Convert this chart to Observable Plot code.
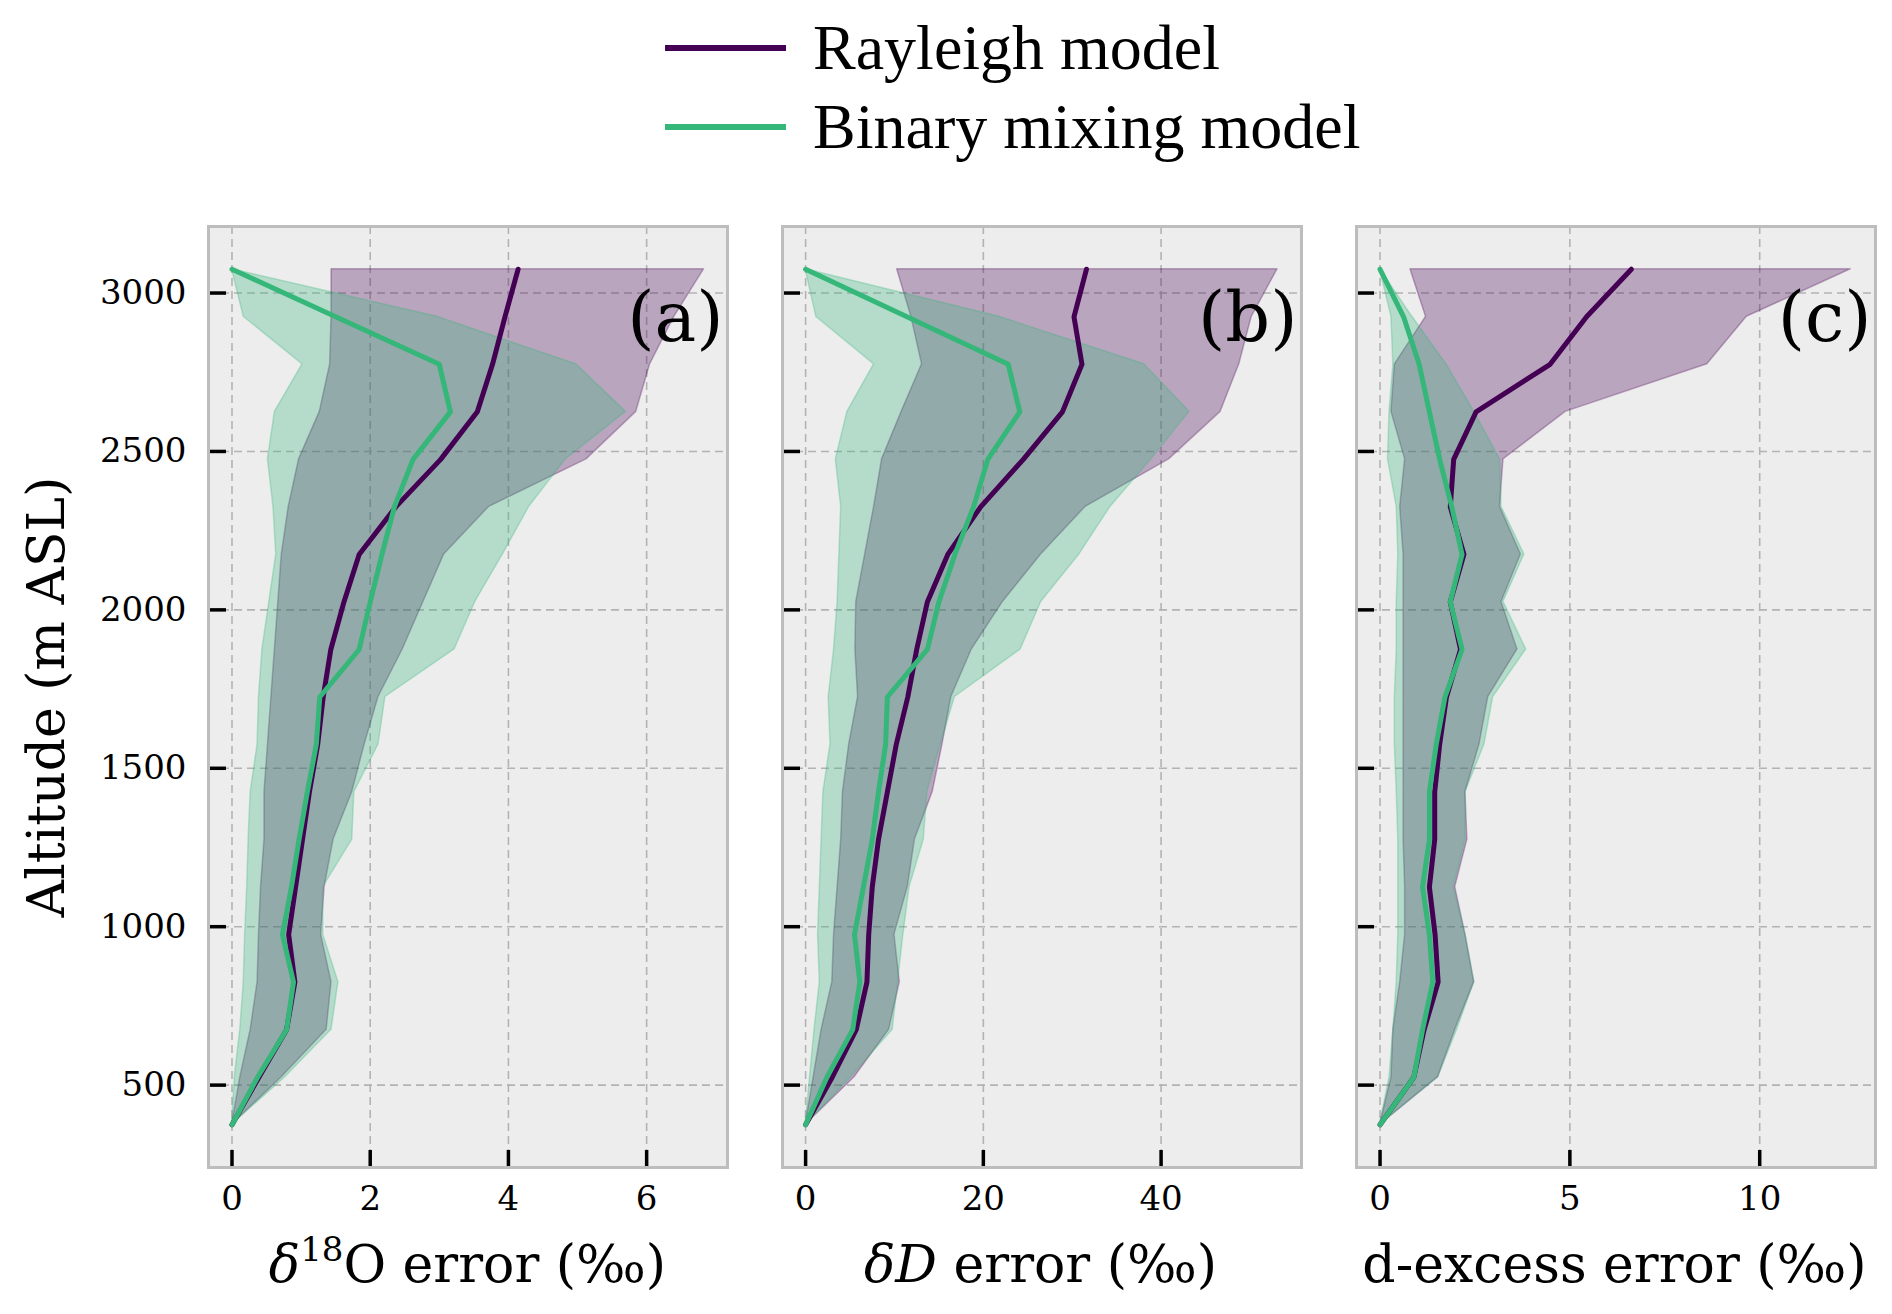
<!DOCTYPE html>
<html lang="en">
<head>
<meta charset="UTF-8">
<title>Altitude error profiles</title>
<script src="https://cdn.jsdelivr.net/npm/d3@7"></script>
<script src="https://cdn.jsdelivr.net/npm/@observablehq/plot@0.6"></script>
<style>
  body { margin: 0; background: #fff; }
  #page { position: relative; width: 1892px; height: 1314px; overflow: hidden; }
  .panel { position: absolute; top: 216px; }
  .panel svg { overflow: visible; }
  .xtitle { position: absolute; top: 1238px; width: 519px; text-align: center;
            font-family: "DejaVu Serif", serif; font-size: 52px; line-height: 1; color: #000; white-space: nowrap; }
  .xtitle sup { font-size: 34px; vertical-align: 0.62em; line-height: 0; }
  #ytitle { position: absolute; left: 46px; top: 697px; transform: translate(-50%, -50%) rotate(-90deg);
            font-family: "DejaVu Serif", serif; font-size: 52px; line-height: 1; white-space: nowrap; }
  .leg { position: absolute; left: 665px; font-family: "Liberation Serif", serif; font-size: 64px; line-height: 1; }
  .leg .sw { position: absolute; left: 0; width: 121px; height: 6px; }
  .leg .lab { position: absolute; left: 148px; white-space: nowrap; transform: translateY(-50%); }
</style>
</head>
<body>
<div id="page">
  <div class="leg" style="top:48px"><div class="sw" style="top:-3px;background:#440154"></div><div class="lab">Rayleigh model</div></div>
  <div class="leg" style="top:127px"><div class="sw" style="top:-3px;background:#35b779"></div><div class="lab">Binary mixing model</div></div>
  <div id="ytitle">Altitude (m ASL)</div>
  <div id="pa" class="panel"></div>
  <div id="pb" class="panel"></div>
  <div id="pc" class="panel"></div>
  <div class="xtitle" style="left:208px"><i>δ</i><sup>18</sup>O error (‰)</div>
  <div class="xtitle" style="left:781px"><i>δD</i> error (‰)</div>
  <div class="xtitle" style="left:1355px">d-excess error (‰)</div>
</div>
<script>
// altitude levels (m ASL)
const altitude = [375, 525, 675, 825, 975, 1125, 1275, 1425, 1575, 1725, 1875, 2025, 2175, 2325, 2475, 2625, 2775, 2925, 3075];
const yTicks = [500, 1000, 1500, 2000, 2500, 3000];

// (a) d18O error
const o18RayMean = [0, 0.39, 0.79, 0.91, 0.82, 0.92, 1.02, 1.12, 1.24, 1.32, 1.43, 1.62, 1.84, 2.37, 3.02, 3.55, 3.77, 3.95, 4.14];
const o18RayLow  = [0, 0.12, 0.27, 0.37, 0.39, 0.42, 0.47, 0.47, 0.52, 0.57, 0.62, 0.67, 0.72, 0.82, 0.97, 1.27, 1.42, 1.44, 1.44];
const o18RayHigh = [0, 0.72, 1.37, 1.44, 1.29, 1.34, 1.47, 1.74, 1.92, 2.12, 2.47, 2.77, 3.07, 3.72, 5.13, 5.85, 6.05, 6.40, 6.83];
const o18MixMean = [0, 0.37, 0.79, 0.89, 0.73, 0.86, 0.97, 1.09, 1.22, 1.27, 1.84, 2.00, 2.17, 2.35, 2.62, 3.16, 3.00, 1.50, 0];
const o18MixLow  = [0, 0.04, 0.12, 0.17, 0.19, 0.22, 0.24, 0.27, 0.37, 0.39, 0.44, 0.54, 0.64, 0.60, 0.52, 0.62, 1.02, 0.17, 0];
const o18MixHigh = [0, 0.77, 1.44, 1.54, 1.32, 1.32, 1.74, 1.77, 2.12, 2.22, 3.22, 3.52, 3.92, 4.30, 4.83, 5.70, 4.98, 2.97, 0];
const o18Ticks = [0, 2, 4, 6];

// (b) dD error
const dRayMean = [0, 3.0, 5.7, 6.9, 7.1, 7.5, 8.2, 9.2, 10.2, 11.5, 12.5, 13.7, 16.0, 19.7, 24.5, 28.9, 31.1, 30.2, 31.6];
const dRayLow  = [0, 0.9, 1.8, 3.0, 3.2, 3.6, 4.0, 4.2, 4.9, 5.9, 5.6, 5.7, 6.7, 7.7, 8.6, 10.8, 13.1, 11.9, 10.3];
const dRayHigh = [0, 5.5, 9.4, 10.6, 10.0, 11.5, 12.3, 14.3, 15.4, 16.4, 18.7, 22.2, 26.5, 31.5, 40.9, 46.7, 48.8, 50.2, 53.1];
const dMixMean = [0, 2.4, 5.3, 6.1, 5.5, 6.5, 7.5, 8.2, 9.0, 9.2, 13.7, 15.0, 16.8, 18.9, 20.5, 24.1, 22.8, 11.4, 0];
const dMixLow  = [0, 0.5, 1.0, 1.6, 1.4, 1.6, 1.8, 2.0, 2.8, 2.6, 3.2, 3.6, 3.8, 4.0, 3.4, 4.7, 7.7, 1.2, 0];
const dMixHigh = [0, 5.1, 9.8, 10.4, 11.0, 11.7, 13.3, 13.7, 15.2, 16.8, 24.2, 26.5, 30.8, 34.3, 38.9, 43.2, 38.1, 21.8, 0];
const dTicks = [0, 20, 40];

// (c) d-excess error
const dxRayMean = [0, 0.89, 1.16, 1.53, 1.45, 1.30, 1.44, 1.44, 1.57, 1.75, 2.12, 1.85, 2.21, 1.85, 1.94, 2.53, 4.48, 5.44, 6.62];
const dxRayLow  = [0, 0.30, 0.35, 0.53, 0.66, 0.66, 0.62, 0.62, 0.62, 0.62, 0.62, 0.62, 0.62, 0.53, 0.66, 0.30, 0.39, 1.21, 0.80];
const dxRayHigh = [0, 1.53, 1.98, 2.48, 2.25, 1.98, 2.30, 2.25, 2.62, 2.85, 3.62, 3.20, 3.71, 3.16, 3.25, 4.89, 8.62, 9.66, 12.4];
const dxMixMean = [0, 0.89, 1.12, 1.39, 1.30, 1.12, 1.30, 1.30, 1.48, 1.71, 2.16, 1.85, 2.16, 1.89, 1.57, 1.30, 1.03, 0.62, 0];
const dxMixLow  = [0, 0.25, 0.35, 0.44, 0.48, 0.48, 0.48, 0.44, 0.39, 0.39, 0.44, 0.44, 0.48, 0.44, 0.21, 0.25, 0.35, 0.30, 0];
const dxMixHigh = [0, 1.53, 2.03, 2.48, 2.25, 1.94, 2.25, 2.25, 2.75, 2.98, 3.85, 3.25, 3.80, 3.20, 3.16, 2.48, 1.75, 0.85, 0];
const dxTicks = [0, 5, 10];

const RAY = "#440154", MIX = "#35b779";
const FW = 519, FH = 941; // frame size in px

function rowsOf(rm, rl, rh, mm, ml, mh) {
  return altitude.map((alt, i) => ({alt, r: rm[i], rLo: rl[i], rHi: rh[i], m: mm[i], mLo: ml[i], mHi: mh[i]}));
}

function panel(el, left, rows, xDomain, xTicks, label, showY) {
  const mL = showY ? 200 : 10, mR = 10, mT = 10, mB = 80;
  const grid = {stroke: "#b3b3b3", strokeOpacity: 1, strokeWidth: 1.6, strokeDasharray: "8,5"};
  const chart = Plot.plot({
    width: mL + FW + mR,
    height: mT + FH + mB,
    marginLeft: mL, marginRight: mR, marginTop: mT, marginBottom: mB,
    x: {domain: xDomain, axis: null},
    y: {domain: [240, 3210], axis: null},
    style: {fontFamily: "DejaVu Serif", fontSize: "34px", color: "#000", background: "transparent", overflow: "visible"},
    marks: [
      Plot.frame({fill: "#ededed"}),
      Plot.gridX(xTicks, grid),
      Plot.gridY(yTicks, grid),
      Plot.areaX(rows, {y: "alt", x1: "rLo", x2: "rHi", fill: RAY, fillOpacity: 0.3, stroke: RAY, strokeOpacity: 0.3, strokeWidth: 1.5}),
      Plot.areaX(rows, {y: "alt", x1: "mLo", x2: "mHi", fill: MIX, fillOpacity: 0.3, stroke: MIX, strokeOpacity: 0.3, strokeWidth: 1.5}),
      Plot.line(rows, {x: "r", y: "alt", stroke: RAY, strokeWidth: 5}),
      Plot.line(rows, {x: "m", y: "alt", stroke: MIX, strokeWidth: 5}),
      Plot.tickY(yTicks, {y: d => d, insetRight: FW - 18, stroke: "#000", strokeWidth: 3.5}),
      Plot.tickX(xTicks, {x: d => d, insetTop: FH - 17, stroke: "#000", strokeWidth: 3.5}),
      Plot.axisX(xTicks, {tickSize: 0, tickPadding: 18, fontSize: 34, tickFormat: d => String(d), label: null}),
      showY ? Plot.axisY(yTicks, {tickSize: 0, tickPadding: 22, fontSize: 34, tickFormat: d => String(d), label: null}) : null,
      Plot.frame({stroke: "#bdbdbd", strokeWidth: 3}),
      Plot.text([label], {text: d => d, frameAnchor: "top-right", dx: -4, dy: 92, lineAnchor: "middle", fontSize: 70})
    ]
  });
  const div = document.getElementById(el);
  div.style.left = (left - mL) + "px";
  div.appendChild(chart);
}

panel("pa", 208, rowsOf(o18RayMean, o18RayLow, o18RayHigh, o18MixMean, o18MixLow, o18MixHigh), [-0.34, 7.17], o18Ticks, "(a)", true);
panel("pb", 781.5, rowsOf(dRayMean, dRayLow, dRayHigh, dMixMean, dMixLow, dMixHigh), [-2.6, 55.8], dTicks, "(b)", false);
panel("pc", 1355.5, rowsOf(dxRayMean, dxRayLow, dxRayHigh, dxMixMean, dxMixLow, dxMixHigh), [-0.62, 13.05], dxTicks, "(c)", false);
</script>
</body>
</html>
